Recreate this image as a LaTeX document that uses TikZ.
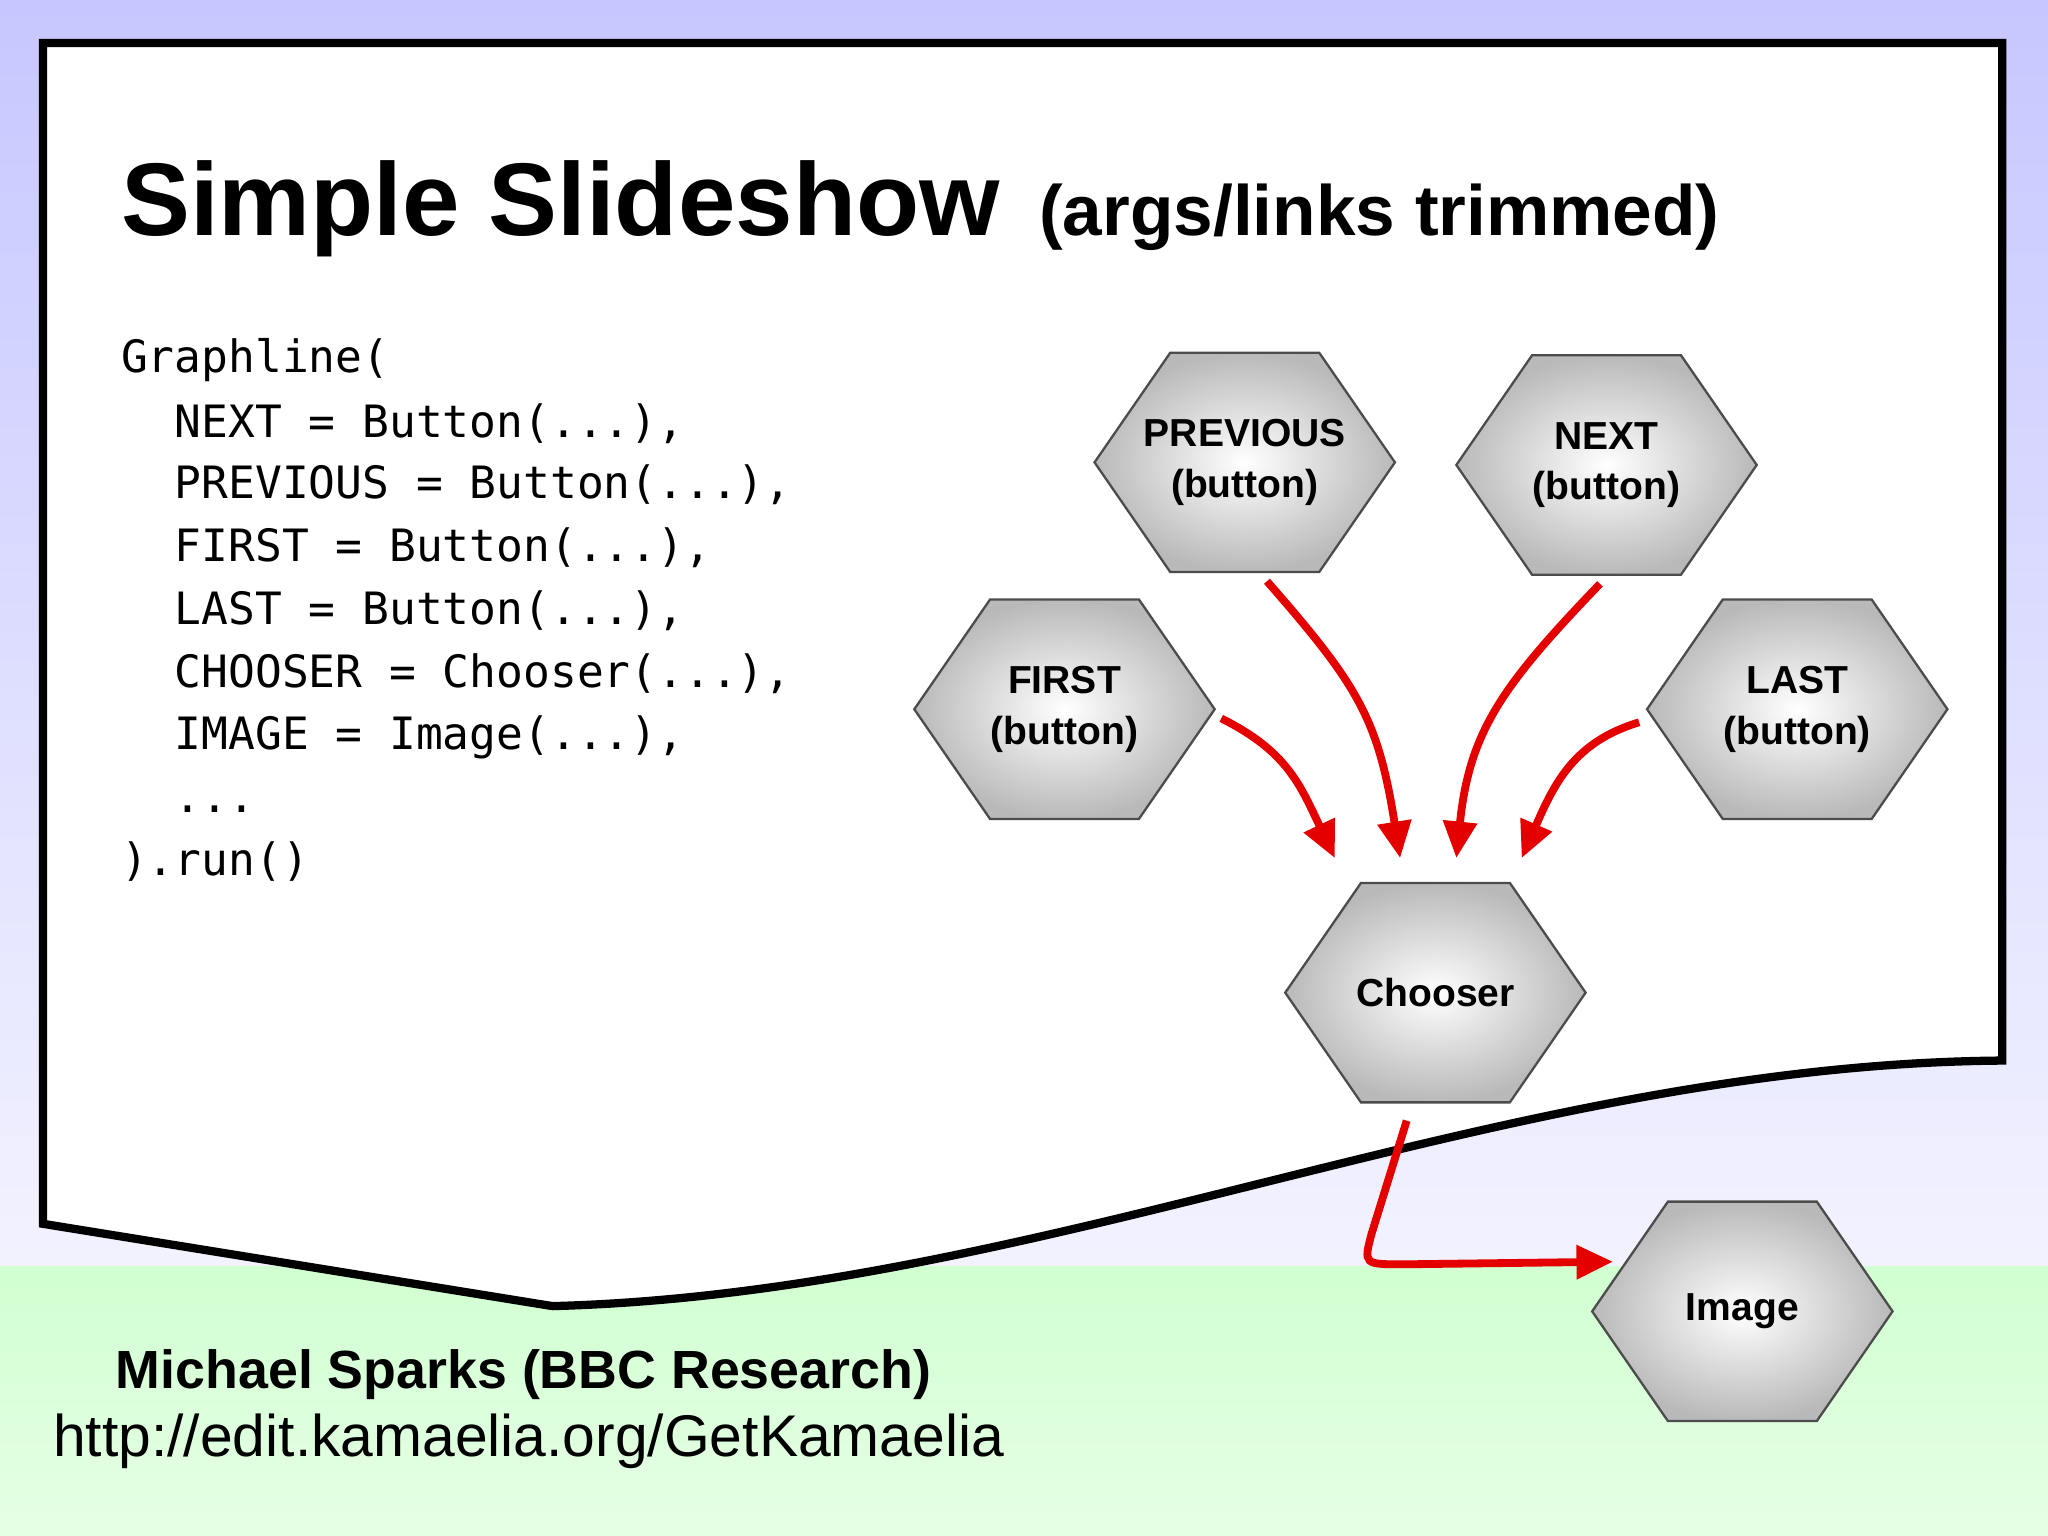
\documentclass[tikz,border=0pt]{standalone}
\usepackage{fontspec}
\setmainfont{Liberation Sans}
\newfontfamily\codefont{DejaVu Sans Mono}
\usetikzlibrary{arrows.meta}

\tikzset{
  hexa/.style={shading=radial, inner color=white, outer color=gray!55, draw=gray!60!black, line width=0.5pt},
  hexlabel/.style={align=center, font=\fontsize{8.5}{11}\selectfont\bfseries, minimum width=1.6cm, minimum height=1.2cm},
  flow/.style={draw=red!90!black, line width=1.7pt, -{Triangle[length=0.28cm,width=0.25cm]}},
  codeline/.style={anchor=base west, inner sep=0pt, font=\codefont\fontsize{9.7}{11}\selectfont}
}
% hexagon with a named label node in the middle
\newcommand{\hexbox}[3]{%
  \path[hexa] (#1) ++(-115,0) -- ++(58,-84) -- ++(114,0) -- ++(58,84) -- ++(-58,84) -- ++(-114,0) -- cycle;
  \node[hexlabel] (#2) at (#1) {#3};
}

\begin{document}
\begin{tikzpicture}[x=0.01cm, y=-0.01cm]
  \useasboundingbox (0,0) rectangle (1568,1176);

  % background
  \shade[top color=blue!22, bottom color=blue!5] (0,0) rectangle (1568,970);
  \shade[top color=green!18!white, bottom color=green!10!white] (0,970) rectangle (1568,1176);

  % page
  \draw[fill=white, line width=1.8pt] (33,33) -- (1533,33) -- (1533,812)
    .. controls (1150,815) and (800,990) .. (423,1000) -- (33,937) -- cycle;

  % title
  \node[anchor=base west, inner sep=0pt, font=\fontsize{22.5}{26}\selectfont\bfseries] (title) at (92,180) {Simple Slideshow};
  \node[anchor=base west, inner sep=0pt, font=\fontsize{15.5}{18}\selectfont\bfseries] (subtitle) at (795,180) {(args/links trimmed)};

  % code
  \node[codeline] (c1) at (92,285) {Graphline(};
  \node[codeline] (c2) at (92,335) {\ \ NEXT = Button(...),};
  \node[codeline] (c3) at (92,382) {\ \ PREVIOUS = Button(...),};
  \node[codeline] (c4) at (92,430) {\ \ FIRST = Button(...),};
  \node[codeline] (c5) at (92,478) {\ \ LAST = Button(...),};
  \node[codeline] (c6) at (92,526) {\ \ CHOOSER = Chooser(...),};
  \node[codeline] (c7) at (92,574) {\ \ IMAGE = Image(...),};
  \node[codeline] (c8) at (92,622) {\ \ ...};
  \node[codeline] (c9) at (92,670) {).run()};

  % components
  \hexbox{953,354}{previous}{PREVIOUS\\(button)}
  \hexbox{1230,356}{next}{NEXT\\(button)}
  \hexbox{815,543}{first}{FIRST\\(button)}
  \hexbox{1376,543}{last}{LAST\\(button)}
  \hexbox{1099,760}{chooser}{Chooser}
  \hexbox{1334,1004}{image}{Image}

  % links
  \coordinate (inA) at (1022,657);
  \coordinate (inB) at (1072,657);
  \coordinate (inC) at (1115,657);
  \coordinate (inD) at (1165,657);
  \coordinate (outA) at (935,550);
  \coordinate (outB) at (970,445);
  \coordinate (outC) at (1225,447);
  \coordinate (outD) at (1255,553);
  \draw[flow] (outA) .. controls (985,575) and (995,600) .. (inA);
  \draw[flow] (outB) .. controls (1040,525) and (1055,550) .. (inB);
  \draw[flow] (outC) .. controls (1150,525) and (1125,560) .. (inC);
  \draw[flow] (outD) .. controls (1205,568) and (1190,600) .. (inD);
  \coordinate (outE) at (1077,858);
  \coordinate (inE) at (1235,966);
  \draw[flow] (outE) -- (1050,945) .. controls (1044,968) .. (1075,968) -- (inE);

  % footer
  \node[anchor=base west, inner sep=0pt, font=\fontsize{11.7}{14}\selectfont\bfseries] (author) at (88,1063) {Michael Sparks (BBC Research)};
  \node[anchor=base west, inner sep=0pt, font=\fontsize{12.8}{14}\selectfont] (url) at (40,1115) {http://edit.kamaelia.org/GetKamaelia};
\end{tikzpicture}
\end{document}
